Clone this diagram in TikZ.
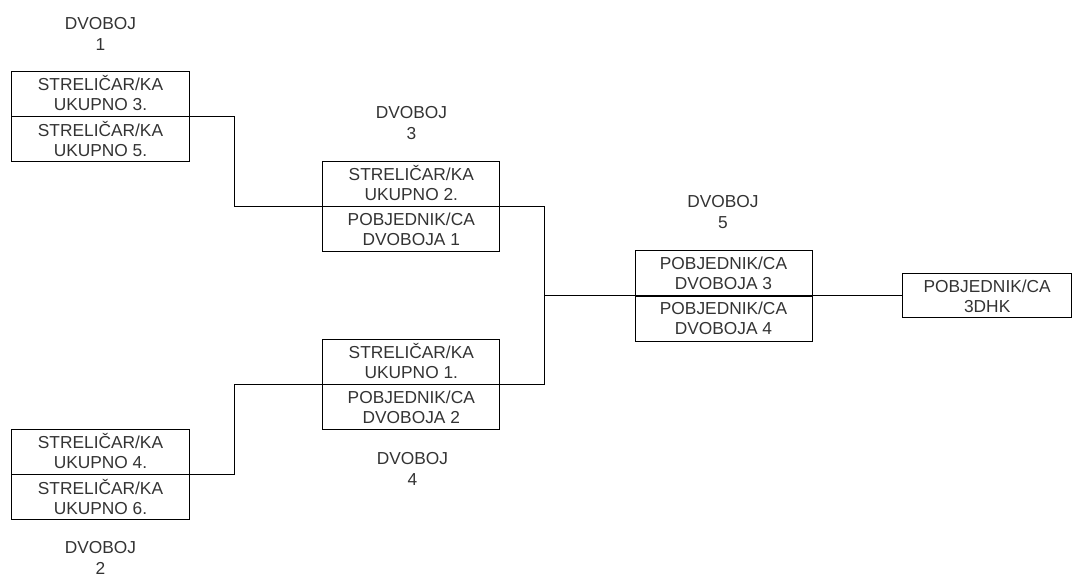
\documentclass[tikz,border=0pt]{standalone}
\usepackage{fontspec}
\setmainfont{Liberation Sans}
\usetikzlibrary{positioning}

\tikzset{
  half/.style={draw, line width=0.6pt, minimum width=134pt, minimum height=33.75pt,
    inner sep=0pt, align=center, text=black!80, font=\fontsize{13}{15}\selectfont},
  lbl/.style={align=center, inner sep=0pt, text=black!80, font=\fontsize{13}{15.5}\selectfont},
  wire/.style={line width=0.6pt}
}

\begin{document}
\begin{tikzpicture}[x=0.75pt, y=-0.75pt]
            \useasboundingbox (0,0) rectangle (1072,574);
            \node [half] (a1) at (100.5,93.5) {STRELIČAR/KA\\UKUPNO 3.};
            \node [half, below = 0pt of a1] (a2) {STRELIČAR/KA\\UKUPNO 5.};
            \node [lbl] (t1) at (100.5,34) {DVOBOJ\\1};
            \node [half] (b1) at (100.5,451.5) {STRELIČAR/KA\\UKUPNO 4.};
            \node [half, below = 0pt of b1] (b2) {STRELIČAR/KA\\UKUPNO 6.};
            \node [lbl] (t2) at (100.5,558) {DVOBOJ\\2};
            \node [half, minimum width=132.75pt] (c1) at (411.3,183.5) {STRELIČAR/KA\\UKUPNO 2.};
            \node [half, minimum width=132.75pt, below = 0pt of c1] (c2) {POBJEDNIK/CA\\DVOBOJA 1};
            \node [lbl] (t3) at (411.5,123) {DVOBOJ\\3};
            \node [half, minimum width=132.75pt] (d1) at (411.3,361.5) {STRELIČAR/KA\\UKUPNO 1.};
            \node [half, minimum width=132.75pt, below = 0pt of d1] (d2) {POBJEDNIK/CA\\DVOBOJA 2};
            \node [lbl] (t4) at (412.5,469) {DVOBOJ\\4};
            \node [half, minimum width=132.75pt] (e1) at (723.5,273) {POBJEDNIK/CA\\DVOBOJA 3};
            \node [half, minimum width=132.75pt, below = 0pt of e1] (e2) {POBJEDNIK/CA\\DVOBOJA 4};
            \node [lbl] (t5) at (723,212) {DVOBOJ\\5};
            \node [half, minimum width=127pt, minimum height=33pt, anchor=west] (f) at ([xshift=67.3pt]e1.south east) {POBJEDNIK/CA\\3DHK};
            \path (e1.south west) -- ++(-90,0) coordinate (m34);
            \draw [wire] (a1.south east) -- ++(44,0) |- (c1.south west);
            \draw [wire] (b1.south east) -- ++(44,0) |- (d1.south west);
            \draw [wire] (c1.south east) -| (m34) |- (d1.south east);
            \draw [wire] (m34) -- (e1.south west);
            \draw [wire] (e1.south east) -- (f.west);
            \end{tikzpicture}
\end{document}
